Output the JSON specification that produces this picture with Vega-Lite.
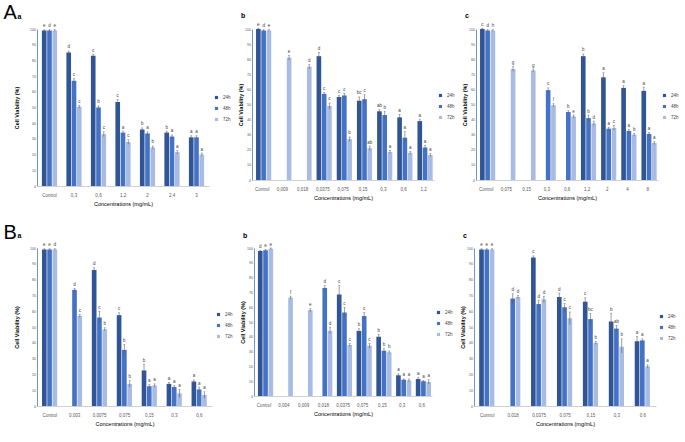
{
  "$schema": "https://vega.github.io/schema/vega-lite/v6.json",
  "background": "white",
  "padding": {"left": 3, "top": 2, "right": 0, "bottom": 2},
  "config": {
    "font": "Liberation Sans",
    "view": {"stroke": null},
    "title": {"anchor": "start", "frame": "bounds", "fontSize": 7, "fontWeight": "bold", "offset": 3, "color": "#000", "dx": 3},
    "axisX": {"labelAngle": 0, "labelFontSize": 4.5, "labelColor": "#595959", "ticks": false, "domainColor": "#D0D0D0", "titleFontSize": 5.5, "titleFontWeight": "normal", "titlePadding": 5, "labelPadding": 6},
    "axisY": {"tickCount": 10, "labelFontSize": 3.6, "labelColor": "#595959", "ticks": false, "grid": false, "domainColor": "#6F95D6", "titleFontSize": 5.5, "titleFontWeight": "bold", "titlePadding": 1.5, "labelPadding": 1.5},
    "legend": {"symbolType": "square", "symbolSize": 10, "labelFontSize": 4.5, "labelColor": "#404040", "rowPadding": 5, "orient": "none"},
    "bar": {"stroke": null},
    "text": {"fontSize": 4.5, "color": "#404040", "baseline": "bottom", "dy": -1.5},
    "rule": {"color": "#606060", "strokeWidth": 0.6},
    "tick": {"color": "#606060", "thickness": 0.6}
  },
  "datasets": {
    "Aa": [
      {"c": "Control", "t": "24h", "v": 99, "lo": 98.5, "hi": 99.5, "l": "e"},
      {"c": "Control", "t": "48h", "v": 99, "lo": 98.5, "hi": 99.5, "l": "d"},
      {"c": "Control", "t": "72h", "v": 99, "lo": 98.5, "hi": 99.5, "l": "e"},
      {"c": "0,3", "t": "24h", "v": 85, "lo": 84, "hi": 86, "l": "d"},
      {"c": "0,3", "t": "48h", "v": 67, "lo": 66, "hi": 68.5, "l": "c"},
      {"c": "0,3", "t": "72h", "v": 50.5, "lo": 49.5, "hi": 51.5, "l": "c"},
      {"c": "0,6", "t": "24h", "v": 83, "lo": 82, "hi": 84, "l": "c"},
      {"c": "0,6", "t": "48h", "v": 50, "lo": 49, "hi": 51, "l": "b"},
      {"c": "0,6", "t": "72h", "v": 33, "lo": 31.5, "hi": 34.5, "l": "c"},
      {"c": "1,2", "t": "24h", "v": 53.5, "lo": 52, "hi": 55, "l": "c"},
      {"c": "1,2", "t": "48h", "v": 34, "lo": 33, "hi": 35, "l": "a"},
      {"c": "1,2", "t": "72h", "v": 28, "lo": 26.5, "hi": 29.5, "l": "c"},
      {"c": "2", "t": "24h", "v": 36, "lo": 35, "hi": 37, "l": "b"},
      {"c": "2", "t": "48h", "v": 33.5, "lo": 32.5, "hi": 34.5, "l": "a"},
      {"c": "2", "t": "72h", "v": 24.5, "lo": 23.5, "hi": 25.5, "l": "b"},
      {"c": "2,4", "t": "24h", "v": 34, "lo": 33, "hi": 35, "l": "b"},
      {"c": "2,4", "t": "48h", "v": 31.5, "lo": 30.5, "hi": 32.5, "l": "a"},
      {"c": "2,4", "t": "72h", "v": 21.5, "lo": 20.5, "hi": 22.5, "l": "a"},
      {"c": "3", "t": "24h", "v": 31, "lo": 30, "hi": 32, "l": "a"},
      {"c": "3", "t": "48h", "v": 31, "lo": 30, "hi": 32, "l": "a"},
      {"c": "3", "t": "72h", "v": 20, "lo": 19, "hi": 21, "l": "a"}
    ],
    "Ab": [
      {"c": "Control", "t": "24h", "v": 100, "lo": 99.5, "hi": 100.5, "l": "e"},
      {"c": "Control", "t": "48h", "v": 99, "lo": 98.5, "hi": 99.5, "l": "d"},
      {"c": "Control", "t": "72h", "v": 99, "lo": 98.5, "hi": 99.5, "l": "e"},
      {"c": "0,009", "t": "72h", "v": 81, "lo": 79.5, "hi": 82.5, "l": "e"},
      {"c": "0,018", "t": "72h", "v": 75, "lo": 73.5, "hi": 76.5, "l": "d"},
      {"c": "0,0375", "t": "24h", "v": 82, "lo": 80, "hi": 84.5, "l": "d"},
      {"c": "0,0375", "t": "48h", "v": 57, "lo": 56, "hi": 58, "l": "c"},
      {"c": "0,0375", "t": "72h", "v": 49, "lo": 47, "hi": 51, "l": "c"},
      {"c": "0,075", "t": "24h", "v": 55, "lo": 54, "hi": 56, "l": "c"},
      {"c": "0,075", "t": "48h", "v": 56, "lo": 54.5, "hi": 57.5, "l": "c"},
      {"c": "0,075", "t": "72h", "v": 27, "lo": 25.5, "hi": 28.5, "l": "b"},
      {"c": "0,15", "t": "24h", "v": 52.5, "lo": 50, "hi": 55, "l": "bc"},
      {"c": "0,15", "t": "48h", "v": 53.5, "lo": 50.5, "hi": 56.5, "l": "c"},
      {"c": "0,15", "t": "72h", "v": 21, "lo": 19.5, "hi": 22.5, "l": "ab"},
      {"c": "0,3", "t": "24h", "v": 45.5, "lo": 44.5, "hi": 46.5, "l": "ab"},
      {"c": "0,3", "t": "48h", "v": 43, "lo": 40.5, "hi": 45.5, "l": "b"},
      {"c": "0,3", "t": "72h", "v": 18.5, "lo": 17.5, "hi": 19.5, "l": "a"},
      {"c": "0,6", "t": "24h", "v": 41.5, "lo": 39.5, "hi": 43.5, "l": "a"},
      {"c": "0,6", "t": "48h", "v": 28, "lo": 24, "hi": 32, "l": "a"},
      {"c": "0,6", "t": "72h", "v": 18, "lo": 17, "hi": 19, "l": "a"},
      {"c": "1,2", "t": "24h", "v": 39, "lo": 38, "hi": 40, "l": "a"},
      {"c": "1,2", "t": "48h", "v": 21.5, "lo": 20, "hi": 23, "l": "a"},
      {"c": "1,2", "t": "72h", "v": 16.5, "lo": 15.5, "hi": 17.5, "l": "a"}
    ],
    "Ac": [
      {"c": "Control", "t": "24h", "v": 100, "lo": 99.5, "hi": 100.5, "l": "c"},
      {"c": "Control", "t": "48h", "v": 99, "lo": 98.5, "hi": 99.5, "l": "d"},
      {"c": "Control", "t": "72h", "v": 99, "lo": 98.5, "hi": 99.5, "l": "h"},
      {"c": "0,075", "t": "72h", "v": 73.5, "lo": 72, "hi": 75, "l": "g"},
      {"c": "0,15", "t": "72h", "v": 72.5, "lo": 71.5, "hi": 73.5, "l": "g"},
      {"c": "0,3", "t": "48h", "v": 59.5, "lo": 58, "hi": 61, "l": "c"},
      {"c": "0,3", "t": "72h", "v": 49.5, "lo": 48.5, "hi": 50.5, "l": "f"},
      {"c": "0,6", "t": "48h", "v": 45, "lo": 44, "hi": 46, "l": "b"},
      {"c": "0,6", "t": "72h", "v": 42, "lo": 41, "hi": 43, "l": "e"},
      {"c": "1,2", "t": "24h", "v": 82, "lo": 81, "hi": 83.5, "l": "b"},
      {"c": "1,2", "t": "48h", "v": 41, "lo": 39, "hi": 43, "l": "b"},
      {"c": "1,2", "t": "72h", "v": 37.5, "lo": 36, "hi": 39, "l": "d"},
      {"c": "2", "t": "24h", "v": 68, "lo": 66, "hi": 71, "l": "a"},
      {"c": "2", "t": "48h", "v": 34, "lo": 33, "hi": 35, "l": "a"},
      {"c": "2", "t": "72h", "v": 34.5, "lo": 33, "hi": 36, "l": "c"},
      {"c": "4", "t": "24h", "v": 61, "lo": 59.5, "hi": 62.5, "l": "a"},
      {"c": "4", "t": "48h", "v": 32.5, "lo": 31.5, "hi": 33.5, "l": "a"},
      {"c": "4", "t": "72h", "v": 30, "lo": 29, "hi": 31, "l": "b"},
      {"c": "8", "t": "24h", "v": 59, "lo": 56.5, "hi": 61.5, "l": "a"},
      {"c": "8", "t": "48h", "v": 30.5, "lo": 29.5, "hi": 31.5, "l": "a"},
      {"c": "8", "t": "72h", "v": 24.5, "lo": 23.5, "hi": 25.5, "l": "a"}
    ],
    "Ba": [
      {"c": "Control", "t": "24h", "v": 99, "lo": 98.5, "hi": 99.5, "l": "e"},
      {"c": "Control", "t": "48h", "v": 99, "lo": 98.5, "hi": 99.5, "l": "e"},
      {"c": "Control", "t": "72h", "v": 99, "lo": 98.5, "hi": 99.5, "l": "d"},
      {"c": "0,003", "t": "48h", "v": 73.5, "lo": 72.5, "hi": 74.5, "l": "d"},
      {"c": "0,003", "t": "72h", "v": 57, "lo": 56, "hi": 58, "l": "c"},
      {"c": "0,0075", "t": "24h", "v": 86, "lo": 85, "hi": 87.5, "l": "d"},
      {"c": "0,0075", "t": "48h", "v": 56, "lo": 53, "hi": 60, "l": "c"},
      {"c": "0,0075", "t": "72h", "v": 48.5, "lo": 47.5, "hi": 49.5, "l": "b"},
      {"c": "0,075", "t": "24h", "v": 57.5, "lo": 56, "hi": 59, "l": "c"},
      {"c": "0,075", "t": "48h", "v": 35.5, "lo": 32, "hi": 39, "l": "b"},
      {"c": "0,075", "t": "72h", "v": 14, "lo": 12, "hi": 16, "l": "b"},
      {"c": "0,15", "t": "24h", "v": 22.5, "lo": 19, "hi": 26.5, "l": "b"},
      {"c": "0,15", "t": "48h", "v": 12.5, "lo": 11.5, "hi": 13.5, "l": "a"},
      {"c": "0,15", "t": "72h", "v": 13, "lo": 12, "hi": 14, "l": "a"},
      {"c": "0,3", "t": "24h", "v": 14, "lo": 13, "hi": 15, "l": "a"},
      {"c": "0,3", "t": "48h", "v": 12, "lo": 11, "hi": 13, "l": "a"},
      {"c": "0,3", "t": "72h", "v": 8, "lo": 5.5, "hi": 10.5, "l": "a"},
      {"c": "0,6", "t": "24h", "v": 15.5, "lo": 14.5, "hi": 16.5, "l": "a"},
      {"c": "0,6", "t": "48h", "v": 10.5, "lo": 9, "hi": 12, "l": "a"},
      {"c": "0,6", "t": "72h", "v": 7, "lo": 5, "hi": 9, "l": "a"}
    ],
    "Bb": [
      {"c": "Control", "t": "24h", "v": 98, "lo": 97.5, "hi": 98.5, "l": "d"},
      {"c": "Control", "t": "48h", "v": 98.5, "lo": 98, "hi": 99, "l": "e"},
      {"c": "Control", "t": "72h", "v": 99.5, "lo": 99, "hi": 100, "l": "e"},
      {"c": "0,004", "t": "72h", "v": 66.5, "lo": 65.5, "hi": 67.5, "l": "f"},
      {"c": "0,009", "t": "72h", "v": 58, "lo": 57, "hi": 59, "l": "e"},
      {"c": "0,018", "t": "48h", "v": 73, "lo": 71.5, "hi": 74.5, "l": "d"},
      {"c": "0,018", "t": "72h", "v": 44, "lo": 42, "hi": 46.5, "l": "d"},
      {"c": "0,0375", "t": "24h", "v": 68.5, "lo": 62, "hi": 74.5, "l": "c"},
      {"c": "0,0375", "t": "48h", "v": 56.5, "lo": 53, "hi": 60, "l": "c"},
      {"c": "0,0375", "t": "72h", "v": 34.5, "lo": 33.5, "hi": 35.5, "l": "c"},
      {"c": "0,075", "t": "24h", "v": 44, "lo": 42.5, "hi": 45.5, "l": "b"},
      {"c": "0,075", "t": "48h", "v": 54, "lo": 52, "hi": 56.5, "l": "c"},
      {"c": "0,075", "t": "72h", "v": 34, "lo": 32.5, "hi": 35.5, "l": "c"},
      {"c": "0,15", "t": "24h", "v": 40, "lo": 38.5, "hi": 41.5, "l": "b"},
      {"c": "0,15", "t": "48h", "v": 30.5, "lo": 29, "hi": 32, "l": "b"},
      {"c": "0,15", "t": "72h", "v": 29.5, "lo": 28.5, "hi": 30.5, "l": "b"},
      {"c": "0,3", "t": "24h", "v": 14, "lo": 13, "hi": 15, "l": "a"},
      {"c": "0,3", "t": "48h", "v": 11, "lo": 10.5, "hi": 11.5, "l": "a"},
      {"c": "0,3", "t": "72h", "v": 10.5, "lo": 9.5, "hi": 11.5, "l": "a"},
      {"c": "0,6", "t": "24h", "v": 11.5, "lo": 10.5, "hi": 12.5, "l": "a"},
      {"c": "0,6", "t": "48h", "v": 10, "lo": 9.5, "hi": 10.5, "l": "a"},
      {"c": "0,6", "t": "72h", "v": 9.5, "lo": 8, "hi": 11, "l": "a"}
    ],
    "Bc": [
      {"c": "Control", "t": "24h", "v": 99, "lo": 98.5, "hi": 99.5, "l": "e"},
      {"c": "Control", "t": "48h", "v": 99, "lo": 98.5, "hi": 99.5, "l": "e"},
      {"c": "Control", "t": "72h", "v": 99, "lo": 98.5, "hi": 99.5, "l": "e"},
      {"c": "0,018", "t": "48h", "v": 68, "lo": 65, "hi": 71, "l": "d"},
      {"c": "0,018", "t": "72h", "v": 69, "lo": 68, "hi": 70, "l": "d"},
      {"c": "0,0375", "t": "24h", "v": 94, "lo": 93, "hi": 95, "l": "c"},
      {"c": "0,0375", "t": "48h", "v": 64.5, "lo": 62, "hi": 67, "l": "d"},
      {"c": "0,0375", "t": "72h", "v": 67.5, "lo": 65.5, "hi": 69.5, "l": "d"},
      {"c": "0,075", "t": "24h", "v": 69, "lo": 66.5, "hi": 71.5, "l": "d"},
      {"c": "0,075", "t": "48h", "v": 62.5, "lo": 60, "hi": 65, "l": "c"},
      {"c": "0,075", "t": "72h", "v": 55.5, "lo": 51.5, "hi": 59.5, "l": "c"},
      {"c": "0,15", "t": "24h", "v": 66, "lo": 63.5, "hi": 68.5, "l": "c"},
      {"c": "0,15", "t": "48h", "v": 55, "lo": 51.5, "hi": 58.5, "l": "bc"},
      {"c": "0,15", "t": "72h", "v": 40, "lo": 39, "hi": 41, "l": "b"},
      {"c": "0,3", "t": "24h", "v": 53.5, "lo": 48.5, "hi": 58.5, "l": "b"},
      {"c": "0,3", "t": "48h", "v": 49, "lo": 47, "hi": 51, "l": "ab"},
      {"c": "0,3", "t": "72h", "v": 37.5, "lo": 33.5, "hi": 42.5, "l": "b"},
      {"c": "0,6", "t": "24h", "v": 41, "lo": 38, "hi": 44, "l": "a"},
      {"c": "0,6", "t": "48h", "v": 41.5, "lo": 40.5, "hi": 42.5, "l": "a"},
      {"c": "0,6", "t": "72h", "v": 25, "lo": 24, "hi": 26, "l": "a"}
    ]
  },
  "resolve": {"scale": {"color": "independent"}, "legend": {"color": "independent"}},
  "spacing": 15,
  "vconcat": [
    {
      "title": {"text": "A", "anchor": "start", "frame": "bounds", "fontSize": 20, "fontWeight": "normal", "offset": -11, "baseline": "top", "dx": -11},
      "resolve": {"scale": {"color": "independent"}, "legend": {"color": "independent"}},
      "spacing": 7,
      "hconcat": [
        {
          "title": "a", "width": 172, "height": 157, "data": {"name": "Aa"},
          "encoding": {
            "x": {"field": "c", "type": "nominal", "sort": null, "title": "Concentrations (mg/mL)", "scale": {"paddingInner": 0.38, "paddingOuter": 0.2}},
            "xOffset": {"field": "t", "type": "nominal", "scale": {"domain": ["24h", "48h", "72h"], "paddingInner": 0.12}}
          },
          "layer": [
            {"mark": "bar", "encoding": {
              "y": {"field": "v", "type": "quantitative", "scale": {"domain": [0, 100]}, "title": "Cell Viability (%)", "axis": {"titlePadding": 10}},
              "color": {"field": "t", "type": "nominal", "scale": {"domain": ["24h", "48h", "72h"], "range": ["#2F5597", "#4472C4", "#A8BBE3"]}, "legend": {"title": null, "legendX": 177, "legendY": 66}}}},
            {"mark": "rule", "encoding": {"y": {"field": "lo", "type": "quantitative"}, "y2": {"field": "hi"}}},
            {"mark": {"type": "tick", "size": 2}, "encoding": {"y": {"field": "hi", "type": "quantitative"}}},
            {"mark": "text", "encoding": {"y": {"field": "hi", "type": "quantitative"}, "text": {"field": "l"}}}
          ]
        },
        {
          "title": "b", "width": 182, "height": 151, "data": {"name": "Ab"},
          "encoding": {
            "x": {"field": "c", "type": "nominal", "sort": null, "title": "Concentrations (mg/mL)", "scale": {"paddingInner": 0.38, "paddingOuter": 0.2}},
            "xOffset": {"field": "t", "type": "nominal", "scale": {"domain": ["24h", "48h", "72h"], "paddingInner": 0.12}}
          },
          "layer": [
            {"mark": "bar", "encoding": {
              "y": {"field": "v", "type": "quantitative", "scale": {"domain": [0, 100]}, "title": "Cell Viability (%)"},
              "color": {"field": "t", "type": "nominal", "scale": {"domain": ["24h", "48h", "72h"], "range": ["#2F5597", "#4472C4", "#A8BBE3"]}, "legend": {"title": null, "legendX": 186, "legendY": 64}}}},
            {"mark": "rule", "encoding": {"y": {"field": "lo", "type": "quantitative"}, "y2": {"field": "hi"}}},
            {"mark": {"type": "tick", "size": 2}, "encoding": {"y": {"field": "hi", "type": "quantitative"}}},
            {"mark": "text", "encoding": {"y": {"field": "hi", "type": "quantitative"}, "text": {"field": "l"}}}
          ]
        },
        {
          "title": "c", "width": 182, "height": 151, "data": {"name": "Ac"},
          "encoding": {
            "x": {"field": "c", "type": "nominal", "sort": null, "title": "Concentrations (mg/mL)", "scale": {"paddingInner": 0.38, "paddingOuter": 0.2}},
            "xOffset": {"field": "t", "type": "nominal", "scale": {"domain": ["24h", "48h", "72h"], "paddingInner": 0.12}}
          },
          "layer": [
            {"mark": "bar", "encoding": {
              "y": {"field": "v", "type": "quantitative", "scale": {"domain": [0, 100]}, "title": "Cell Viability (%)"},
              "color": {"field": "t", "type": "nominal", "scale": {"domain": ["24h", "48h", "72h"], "range": ["#2F5597", "#4472C4", "#A8BBE3"]}, "legend": {"title": null, "legendX": 186, "legendY": 64}}}},
            {"mark": "rule", "encoding": {"y": {"field": "lo", "type": "quantitative"}, "y2": {"field": "hi"}}},
            {"mark": {"type": "tick", "size": 2}, "encoding": {"y": {"field": "hi", "type": "quantitative"}}},
            {"mark": "text", "encoding": {"y": {"field": "hi", "type": "quantitative"}, "text": {"field": "l"}}}
          ]
        }
      ]
    },
    {
      "title": {"text": "B", "anchor": "start", "frame": "bounds", "fontSize": 20, "fontWeight": "normal", "offset": -11, "baseline": "top", "dx": -11},
      "resolve": {"scale": {"color": "independent"}, "legend": {"color": "independent"}},
      "spacing": 7,
      "hconcat": [
        {
          "title": "a", "width": 175, "height": 158, "data": {"name": "Ba"},
          "encoding": {
            "x": {"field": "c", "type": "nominal", "sort": null, "title": "Concentrations (mg/mL)", "scale": {"paddingInner": 0.38, "paddingOuter": 0.2}},
            "xOffset": {"field": "t", "type": "nominal", "scale": {"domain": ["24h", "48h", "72h"], "paddingInner": 0.12}}
          },
          "layer": [
            {"mark": "bar", "encoding": {
              "y": {"field": "v", "type": "quantitative", "scale": {"domain": [0, 100]}, "title": "Cell Viability (%)", "axis": {"titlePadding": 10}},
              "color": {"field": "t", "type": "nominal", "scale": {"domain": ["24h", "48h", "72h"], "range": ["#2F5597", "#4472C4", "#A8BBE3"]}, "legend": {"title": null, "legendX": 179, "legendY": 64}}}},
            {"mark": "rule", "encoding": {"y": {"field": "lo", "type": "quantitative"}, "y2": {"field": "hi"}}},
            {"mark": {"type": "tick", "size": 2}, "encoding": {"y": {"field": "hi", "type": "quantitative"}}},
            {"mark": "text", "encoding": {"y": {"field": "hi", "type": "quantitative"}, "text": {"field": "l"}}}
          ]
        },
        {
          "title": "b", "width": 178, "height": 148, "data": {"name": "Bb"},
          "encoding": {
            "x": {"field": "c", "type": "nominal", "sort": null, "title": "Concentrations (mg/mL)", "scale": {"paddingInner": 0.38, "paddingOuter": 0.2}},
            "xOffset": {"field": "t", "type": "nominal", "scale": {"domain": ["24h", "48h", "72h"], "paddingInner": 0.12}}
          },
          "layer": [
            {"mark": "bar", "encoding": {
              "y": {"field": "v", "type": "quantitative", "scale": {"domain": [0, 100]}, "title": "Cell Viability (%)"},
              "color": {"field": "t", "type": "nominal", "scale": {"domain": ["24h", "48h", "72h"], "range": ["#2F5597", "#4472C4", "#A8BBE3"]}, "legend": {"title": null, "legendX": 182, "legendY": 62}}}},
            {"mark": "rule", "encoding": {"y": {"field": "lo", "type": "quantitative"}, "y2": {"field": "hi"}}},
            {"mark": {"type": "tick", "size": 2}, "encoding": {"y": {"field": "hi", "type": "quantitative"}}},
            {"mark": "text", "encoding": {"y": {"field": "hi", "type": "quantitative"}, "text": {"field": "l"}}}
          ]
        },
        {
          "title": "c", "width": 182, "height": 158, "data": {"name": "Bc"},
          "encoding": {
            "x": {"field": "c", "type": "nominal", "sort": null, "title": "Concentrations (mg/mL)", "scale": {"paddingInner": 0.38, "paddingOuter": 0.2}},
            "xOffset": {"field": "t", "type": "nominal", "scale": {"domain": ["24h", "48h", "72h"], "paddingInner": 0.12}}
          },
          "layer": [
            {"mark": "bar", "encoding": {
              "y": {"field": "v", "type": "quantitative", "scale": {"domain": [0, 100]}, "title": "Cell Viability (%)"},
              "color": {"field": "t", "type": "nominal", "scale": {"domain": ["24h", "48h", "72h"], "range": ["#2F5597", "#4472C4", "#A8BBE3"]}, "legend": {"title": null, "legendX": 185, "legendY": 66}}}},
            {"mark": "rule", "encoding": {"y": {"field": "lo", "type": "quantitative"}, "y2": {"field": "hi"}}},
            {"mark": {"type": "tick", "size": 2}, "encoding": {"y": {"field": "hi", "type": "quantitative"}}},
            {"mark": "text", "encoding": {"y": {"field": "hi", "type": "quantitative"}, "text": {"field": "l"}}}
          ]
        }
      ]
    }
  ]
}
